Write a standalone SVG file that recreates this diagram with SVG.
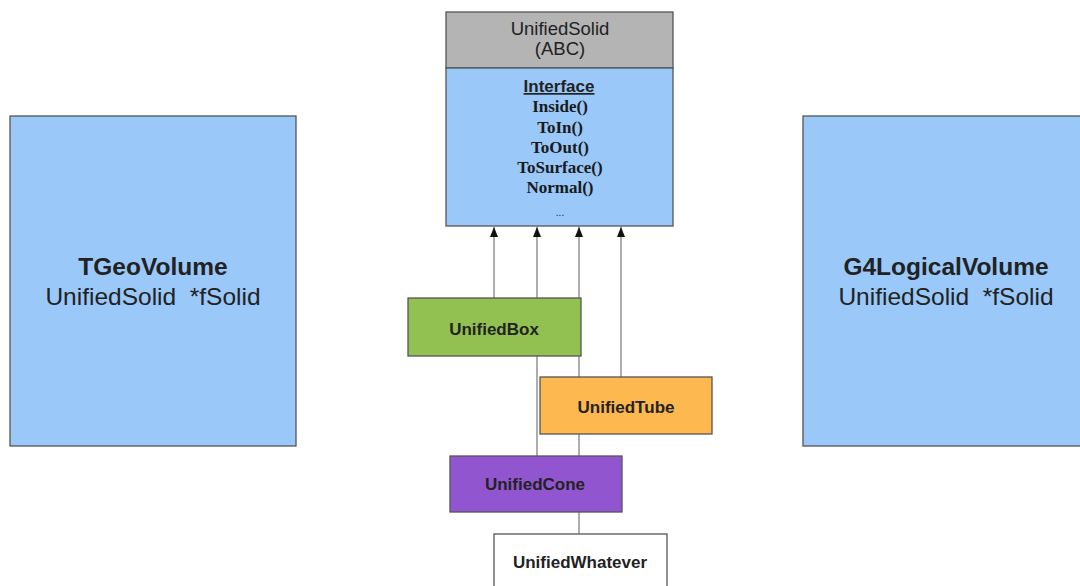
<svg xmlns="http://www.w3.org/2000/svg" width="1080" height="586" viewBox="0 0 1080 586">
<style>
.box{stroke:#555;stroke-width:1.3}
.blue{fill:#99c8f9}
.sans{font-family:"Liberation Sans",Arial,sans-serif;fill:#222;text-anchor:middle}
.serif{font-family:"Liberation Serif","Times New Roman",serif;font-weight:bold;fill:#1a1a1a;text-anchor:middle;font-size:17px}
.lbl{font-size:17px;font-weight:bold}
.conn{stroke:#999;stroke-width:1.6;fill:none}
</style>
<defs>
<marker id="arr" viewBox="0 0 10 8" refX="10" refY="4" markerWidth="10" markerHeight="8" markerUnits="userSpaceOnUse" orient="auto">
<path d="M0,0 L10,4 L0,8 Z" fill="#111"/>
</marker>
</defs>
<rect width="1080" height="586" fill="#fff"/>
<g id="connectors">
<line class="conn" x1="494" y1="298" x2="494" y2="227" marker-end="url(#arr)"/>
<line class="conn" x1="537" y1="456" x2="537" y2="227" marker-end="url(#arr)"/>
<line class="conn" x1="579" y1="534" x2="579" y2="227" marker-end="url(#arr)"/>
<line class="conn" x1="621" y1="377" x2="621" y2="227" marker-end="url(#arr)"/>
</g>
<g id="TGeoVolume">
<rect class="box blue" x="10" y="116" width="286" height="330"/>
<text class="sans" x="153" y="275" font-size="24.5" font-weight="bold">TGeoVolume</text>
<text class="sans" x="153" y="305" font-size="24.5" xml:space="preserve">UnifiedSolid  *fSolid</text>
</g>
<g id="G4LogicalVolume">
<rect class="box blue" x="803" y="116" width="290" height="330"/>
<text class="sans" x="946" y="275" font-size="24.5" font-weight="bold">G4LogicalVolume</text>
<text class="sans" x="946" y="305" font-size="24.5" xml:space="preserve">UnifiedSolid  *fSolid</text>
</g>
<g id="UnifiedSolid">
<rect class="box" x="446" y="12" width="227" height="56" fill="#b4b4b4"/>
<rect class="box blue" x="446" y="68" width="227" height="158"/>
<text class="sans" x="560" y="35" font-size="18.5">UnifiedSolid</text>
<text class="sans" x="560" y="55" font-size="18.5">(ABC)</text>
<text class="sans" x="559" y="92" font-size="17" font-weight="bold" text-decoration="underline">Interface</text>
<text class="serif" x="560" y="112">Inside()</text>
<text class="serif" x="560" y="133">ToIn()</text>
<text class="serif" x="560" y="153">ToOut()</text>
<text class="serif" x="560" y="173">ToSurface()</text>
<text class="serif" x="560" y="193">Normal()</text>
<text class="sans" x="560" y="216" font-size="10" fill="#555">...</text>
</g>
<g id="UnifiedBox">
<rect class="box" x="408" y="298" width="173" height="58" fill="#93c151"/>
<text class="sans lbl" x="494" y="335">UnifiedBox</text>
</g>
<g id="UnifiedTube">
<rect class="box" x="540" y="377" width="172" height="57" fill="#fdb84f"/>
<text class="sans lbl" x="626" y="413">UnifiedTube</text>
</g>
<g id="UnifiedCone">
<rect class="box" x="450" y="456" width="172" height="56" fill="#9156cf"/>
<text class="sans lbl" x="535" y="490">UnifiedCone</text>
</g>
<g id="UnifiedWhatever">
<rect class="box" x="494" y="534" width="173" height="60" fill="#fff"/>
<text class="sans lbl" x="580" y="568">UnifiedWhatever</text>
</g>
</svg>
